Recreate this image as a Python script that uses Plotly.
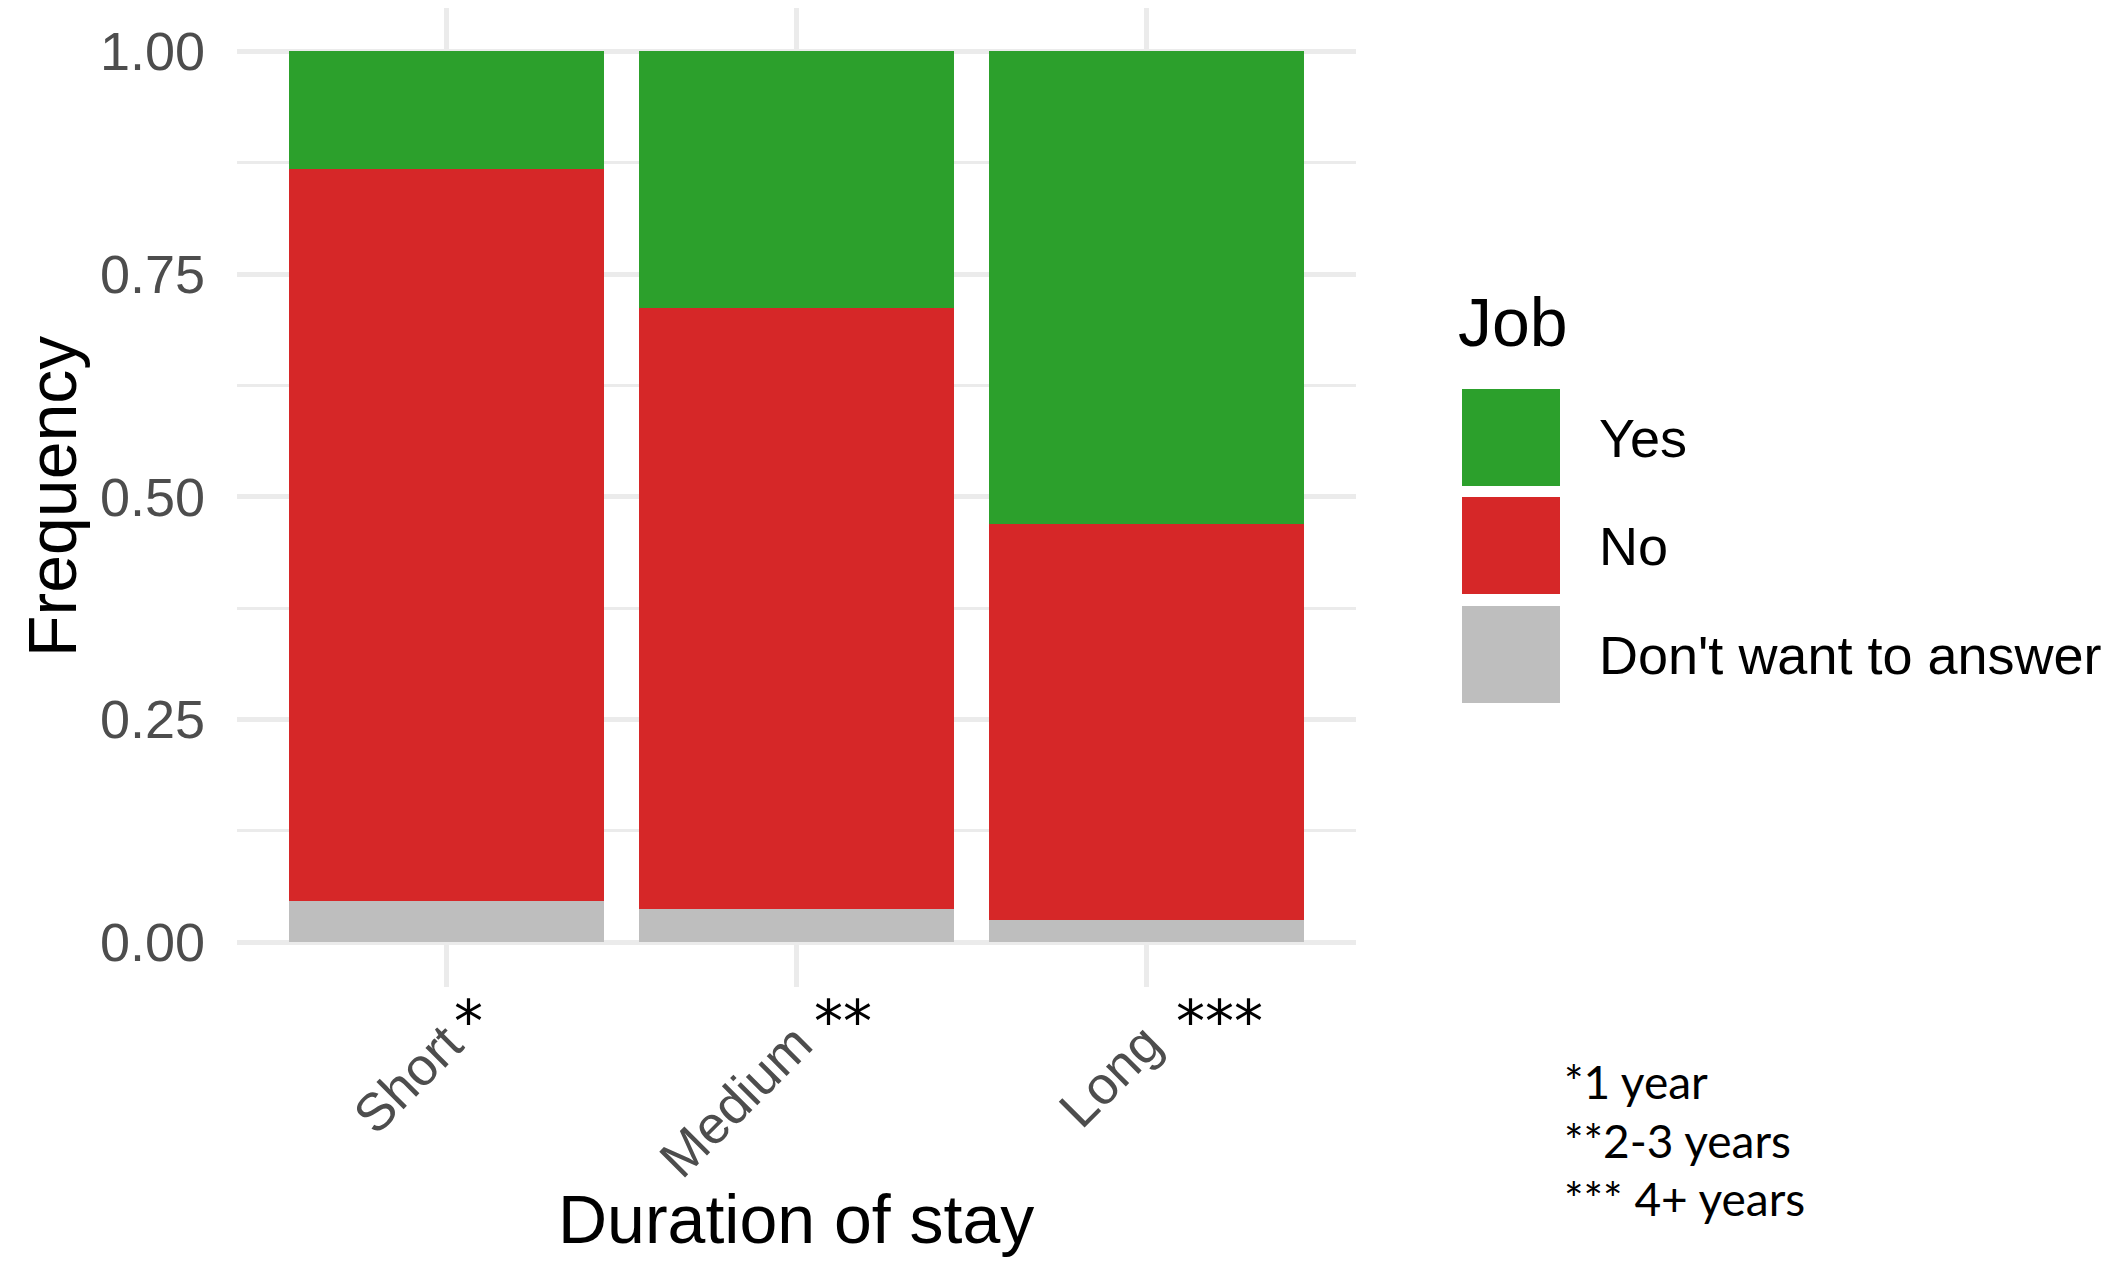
import plotly.graph_objects as go

# page body has an 8px margin; build the figure in screen coordinates minus it
OFF = 8
W, H = 2126 - 2 * OFF, 1268 - 2 * OFF

categories = ["Short", "Medium", "Long"]
dont_want = [0.046, 0.037, 0.025]
no_vals = [0.822, 0.675, 0.444]
yes_vals = [0.132, 0.288, 0.531]

series_names = ["Yes", "No", "Don't want to answer"]
series_colors = ["#2CA02C", "#D62728", "#BEBEBE"]
marks = ["*", "**", "***"]
footnotes = ["*1 year", "**2-3 years", "*** 4+ years"]
y_ticks = [0, 0.25, 0.5, 0.75, 1.0]
y_ticktext = ["0.00", "0.25", "0.50", "0.75", "1.00"]

def px(x):
    return min(1.0, max(0.0, (x - OFF) / W))

def py(y):
    return min(1.0, max(0.0, 1 - (y - OFF) / H))

fig = go.Figure()
for name, vals, color in [(series_names[2], dont_want, series_colors[2]),
                          (series_names[1], no_vals, series_colors[1]),
                          (series_names[0], yes_vals, series_colors[0])]:
    fig.add_trace(go.Bar(x=categories, y=vals, name=name, width=0.9,
                         marker=dict(color=color, line=dict(width=0)),
                         showlegend=False))

grid = "#EBEBEB"
fig.update_layout(
    width=W, height=H, barmode="stack",
    margin=dict(l=0, r=0, t=0, b=0),
    paper_bgcolor="white", plot_bgcolor="white",
    font=dict(family="Liberation Sans, Arial, sans-serif", color="#4D4D4D"),
    xaxis=dict(domain=[px(237), px(1356)], range=[-0.6, 2.6],
               showgrid=True, gridcolor=grid, gridwidth=4.5,
               zeroline=False, showline=False, ticks="",
               tickangle=-45, tickfont=dict(size=53, color="#4D4D4D"),
               ticklabelstandoff=14, automargin=False),
    yaxis=dict(domain=[py(987), py(8)], range=[-0.0505, 1.0488],
               tickvals=y_ticks, ticktext=y_ticktext,
               showgrid=True, gridcolor=grid, gridwidth=4.5,
               minor=dict(tickvals=[0.125, 0.375, 0.625, 0.875], showgrid=True,
                          gridcolor=grid, gridwidth=2.5, ticks=""),
               zeroline=False, showline=False, ticks="",
               tickfont=dict(size=54, color="#4D4D4D"),
               ticklabelstandoff=31, automargin=False),
)

ann = []
ann.append(dict(text="Frequency", x=px(52), y=py(497), xref="paper", yref="paper",
                textangle=-90, showarrow=False, font=dict(size=68, color="black"),
                xanchor="center", yanchor="middle"))
ann.append(dict(text="Duration of stay", x=px(796), y=py(1219), xref="paper", yref="paper",
                showarrow=False, font=dict(size=68, color="black"),
                xanchor="center", yanchor="middle"))
# asterisk marks next to category labels
for m, xc in zip(marks, [468, 843, 1219]):
    ann.append(dict(text=m, x=px(xc), y=py(1022), xref="paper", yref="paper",
                    showarrow=False, font=dict(size=58, color="black", family="DejaVu Sans"),
                    xanchor="center", yanchor="middle"))
# legend
ann.append(dict(text="Job", x=px(1456), y=py(322), xref="paper", yref="paper",
                showarrow=False, font=dict(size=68, color="black"),
                xanchor="left", yanchor="middle"))
shapes = []
key_tops = [389, 497, 606]
for name, color, top in zip(series_names, series_colors, key_tops):
    shapes.append(dict(type="rect", xref="paper", yref="paper",
                       x0=px(1462), x1=px(1560), y0=py(top + 97), y1=py(top),
                       fillcolor=color, line=dict(width=0)))
    ann.append(dict(text=name, x=px(1597), y=py(top + 49), xref="paper", yref="paper",
                    showarrow=False, font=dict(size=54, color="black"),
                    xanchor="left", yanchor="middle"))
# footnote
for t, yc in zip(footnotes, [1081, 1140, 1198]):
    ann.append(dict(text=t, x=px(1562), y=py(yc), xref="paper", yref="paper",
                    showarrow=False, font=dict(size=46, color="black", family="Lato"),
                    xanchor="left", yanchor="middle"))

fig.update_layout(annotations=ann, shapes=shapes)
fig.write_html("out.html")
